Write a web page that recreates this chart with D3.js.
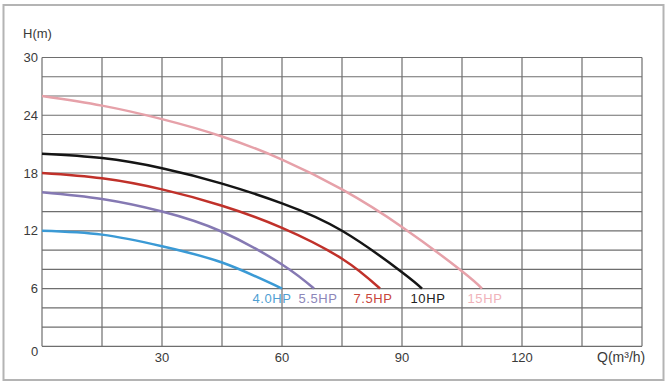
<!DOCTYPE html>
<html lang="en">
<head>
<meta charset="UTF-8">
<title>Pump curves</title>
<script src="https://d3js.org/d3.v7.min.js"></script>
<style>
    body { margin: 0; background: #fff; }
    svg { display: block; font-family: 'Liberation Sans', Arial, sans-serif; }
    .tick-label { fill: #3a3a3a; font-size: 13px; }
</style>
</head>
<body>
<div id="chart"></div>
<script>
    // data: flow Q (m3/h) vs head H (m)
    var seriesNames = ["4.0HP", "5.5HP", "7.5HP", "10HP", "15HP"];
    var q40 = [0, 15, 30, 45, 60];
    var h40 = [12, 11.6, 10.4, 8.7, 6];
    var q55 = [0, 15, 30, 45, 60, 68];
    var h55 = [16, 15.3, 14.0, 11.9, 8.5, 6];
    var q75 = [0, 15, 30, 45, 60, 75, 84.5];
    var h75 = [18, 17.45, 16.3, 14.6, 12.3, 9.1, 6];
    var q10 = [0, 15, 30, 45, 60, 75, 90, 95];
    var h10 = [20, 19.55, 18.5, 16.9, 14.85, 12.0, 7.7, 6];
    var q15 = [0, 15, 30, 45, 60, 75, 90, 105, 110];
    var h15 = [26, 25, 23.6, 21.8, 19.4, 16.3, 12.4, 7.8, 6];
    var xTickLabels = [30, 60, 90, 120];
    var yTickLabels = [6, 12, 18, 24, 30];

    var lineColors = ["#3b9ad5", "#8579b3", "#c0312a", "#151515", "#e6a1a9"];
    var labelColors = ["#4f9fd3", "#8d87b9", "#c8463c", "#222222", "#f0b3ba"];
    var labelDx = [-10, 4, -7, 6, 3];

    var width = 668, height = 384;
    var plotLeft = 42, plotRight = 642, plotTop = 57.5, plotBottom = 346.3;

    var svg = d3.select("#chart").append("svg")
        .attr("width", width)
        .attr("height", height);

    // outer frame
    svg.append("rect")
        .attr("x", 3.5).attr("y", 5)
        .attr("width", 660).attr("height", 375)
        .attr("fill", "none")
        .attr("stroke", "#b4b4b4")
        .attr("stroke-width", 2);

    var x = d3.scaleLinear().domain([0, 150]).range([plotLeft, plotRight]);
    var y = d3.scaleLinear().domain([0, 30]).range([plotBottom, plotTop]);

    // grid: every 15 in Q, every 2 in H
    var grid = svg.append("g").attr("stroke", "#6e6e6e").attr("stroke-width", 1.2);
    grid.selectAll("line.v")
        .data(d3.range(0, 151, 15))
        .enter().append("line")
        .attr("x1", d => x(d)).attr("x2", d => x(d))
        .attr("y1", plotTop).attr("y2", plotBottom);
    grid.selectAll("line.h")
        .data(d3.range(0, 31, 2))
        .enter().append("line")
        .attr("x1", plotLeft).attr("x2", plotRight)
        .attr("y1", d => y(d)).attr("y2", d => y(d));

    // tick labels
    svg.selectAll("text.yl")
        .data(yTickLabels)
        .enter().append("text")
        .attr("class", "tick-label")
        .attr("x", plotLeft - 4)
        .attr("y", d => y(d) + 4.5)
        .attr("text-anchor", "end")
        .text(d => d);
    svg.append("text")
        .attr("class", "tick-label")
        .attr("x", x(0) - 7.5)
        .attr("y", plotBottom + 10)
        .attr("text-anchor", "middle")
        .text("0");
    svg.selectAll("text.xl")
        .data(xTickLabels)
        .enter().append("text")
        .attr("class", "tick-label")
        .attr("x", d => x(d))
        .attr("y", plotBottom + 16)
        .attr("text-anchor", "middle")
        .text(d => d);

    svg.append("text")
        .attr("class", "tick-label")
        .attr("x", 23)
        .attr("y", 38)
        .text("H(m)");
    svg.append("text")
        .attr("class", "tick-label")
        .attr("x", 597)
        .attr("y", 362)
        .style("font-size", "14px")
        .text("Q(m³/h)");

    // curves
    var qs = [q40, q55, q75, q10, q15];
    var hs = [h40, h55, h75, h10, h15];
    var series = seriesNames.map((name, i) => ({
        name: name,
        points: qs[i].map((q, j) => [q, hs[i][j]])
    }));

    var line = d3.line()
        .x(d => x(d[0]))
        .y(d => y(d[1]))
        .curve(d3.curveNatural);

    svg.selectAll("path.curve")
        .data(series)
        .enter().append("path")
        .attr("class", "curve")
        .attr("d", d => line(d.points))
        .attr("fill", "none")
        .attr("stroke", (d, i) => lineColors[i])
        .attr("stroke-width", 2.5);

    svg.selectAll("text.lbl")
        .data(series)
        .enter().append("text")
        .attr("x", (d, i) => x(d.points[d.points.length - 1][0]) + labelDx[i])
        .attr("y", 303)
        .attr("text-anchor", "middle")
        .attr("fill", (d, i) => labelColors[i])
        .style("font-size", "13px")
        .style("letter-spacing", "0.6px")
        .text(d => d.name);
</script>
</body>
</html>
